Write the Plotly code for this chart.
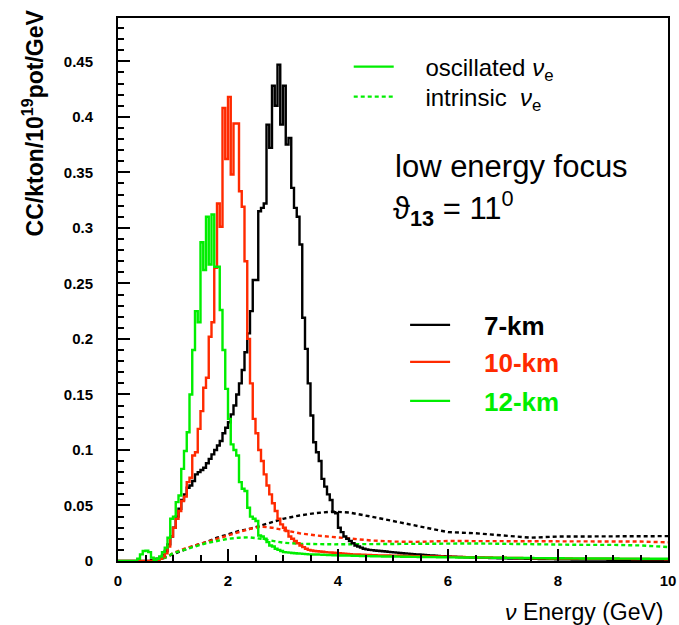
import numpy as np
import plotly.graph_objects as go

# ---------------- data ----------------
BIN_WIDTH = 0.05  # GeV, histogram bins from 0 to 10 GeV

x_tick_values = [0, 2, 4, 6, 8, 10]
y_tick_values = [0, 0.05, 0.1, 0.15, 0.2, 0.25, 0.3, 0.35, 0.4, 0.45]

series_names = ["7-km", "10-km", "12-km"]

# oscillated nu_e, 7 km off-axis (black)
osc_7km = [
    0, 0, 0, 0, 0, 0, 0, 0, 0, 0,
    0, 0, 0.001, 0.001, 0.002, 0.003, 0.005, 0.009, 0.015, 0.022,
    0.030, 0.040, 0.047, 0.055, 0.060, 0.066, 0.068, 0.072, 0.078, 0.080,
    0.082, 0.084, 0.088, 0.092, 0.096, 0.100, 0.104, 0.108, 0.115, 0.120,
    0.125, 0.132, 0.140, 0.150, 0.160, 0.172, 0.188, 0.205, 0.225, 0.253,
    0.253, 0.315, 0.318, 0.322, 0.393, 0.372, 0.428, 0.410, 0.447, 0.393,
    0.428, 0.375, 0.381, 0.336, 0.318, 0.310, 0.285, 0.219, 0.191, 0.160,
    0.131, 0.107, 0.098, 0.090, 0.074, 0.067, 0.060, 0.055, 0.044, 0.043,
    0.030, 0.026, 0.022, 0.020, 0.018, 0.016, 0.014, 0.013, 0.012, 0.011,
    0.0105, 0.010, 0.0098, 0.0095, 0.0092, 0.0090, 0.0088, 0.0085, 0.0082, 0.0080,
    0.0078, 0.0075, 0.0072, 0.0070, 0.0068, 0.0066, 0.0064, 0.0062, 0.0060, 0.0058,
    0.0056, 0.0054, 0.0052, 0.0050, 0.0049, 0.0047, 0.0046, 0.0044, 0.0043, 0.0042,
    0.0040, 0.0039, 0.0038, 0.0037, 0.0036, 0.0035, 0.0034, 0.0033, 0.0032, 0.0031,
    0.0030, 0.0030, 0.0029, 0.0028, 0.0028, 0.0027, 0.0026, 0.0026, 0.0025, 0.0025,
    0.0024, 0.0024, 0.0023, 0.0023, 0.0022, 0.0022, 0.0021, 0.0021, 0.0020, 0.0020,
    0.0020, 0.0019, 0.0019, 0.0018, 0.0018, 0.0018, 0.0017, 0.0017, 0.0017, 0.0016,
    0.0016, 0.0016, 0.0015, 0.0015, 0.0015, 0.0014, 0.0014, 0.0014, 0.0014, 0.0013,
    0.0013, 0.0013, 0.0013, 0.0012, 0.0012, 0.0012, 0.0012, 0.0012, 0.0011, 0.0011,
    0.0011, 0.0011, 0.0011, 0.0010, 0.0010, 0.0010, 0.0010, 0.0010, 0.0010, 0.0010,
    0.0010, 0.0010, 0.0010, 0.0010, 0.0010, 0.0010, 0.0010, 0.0010, 0.0010, 0.0010,
]

# oscillated nu_e, 10 km off-axis (red)
osc_10km = [
    0, 0, 0, 0, 0, 0, 0, 0, 0, 0,
    0, 0, 0, 0.001, 0.001, 0.002, 0.004, 0.007, 0.013, 0.022,
    0.030, 0.038, 0.045, 0.054, 0.058, 0.071, 0.075, 0.095, 0.098, 0.119,
    0.135, 0.156, 0.165, 0.202, 0.215, 0.264, 0.322, 0.301, 0.408, 0.362,
    0.418, 0.348, 0.394, 0.394, 0.333, 0.319, 0.270, 0.200, 0.160, 0.128,
    0.115, 0.100, 0.090, 0.078, 0.068, 0.060, 0.052, 0.045, 0.038, 0.033,
    0.030, 0.027, 0.022, 0.020, 0.018, 0.016, 0.014, 0.0125, 0.011, 0.010,
    0.0095, 0.0090, 0.0088, 0.0085, 0.0083, 0.0080, 0.0078, 0.0076, 0.0074, 0.0072,
    0.0070, 0.0068, 0.0066, 0.0064, 0.0062, 0.0060, 0.0059, 0.0058, 0.0057, 0.0056,
    0.0055, 0.0054, 0.0053, 0.0052, 0.0051, 0.0050, 0.0050, 0.0049, 0.0049, 0.0048,
    0.0048, 0.0047, 0.0047, 0.0046, 0.0046, 0.0045, 0.0045, 0.0044, 0.0044, 0.0043,
    0.0043, 0.0042, 0.0042, 0.0041, 0.0041, 0.0040, 0.0040, 0.0040, 0.0039, 0.0039,
    0.0038, 0.0038, 0.0037, 0.0037, 0.0036, 0.0036, 0.0035, 0.0035, 0.0034, 0.0034,
    0.0033, 0.0033, 0.0032, 0.0032, 0.0031, 0.0031, 0.0030, 0.0030, 0.0030, 0.0029,
    0.0029, 0.0028, 0.0028, 0.0028, 0.0027, 0.0027, 0.0027, 0.0026, 0.0026, 0.0026,
    0.0025, 0.0025, 0.0025, 0.0024, 0.0024, 0.0024, 0.0024, 0.0023, 0.0023, 0.0023,
    0.0023, 0.0022, 0.0022, 0.0022, 0.0022, 0.0021, 0.0021, 0.0021, 0.0021, 0.0020,
    0.0020, 0.0020, 0.0020, 0.0020, 0.0020, 0.0020, 0.0020, 0.0020, 0.0020, 0.0020,
    0.0020, 0.0020, 0.0019, 0.0019, 0.0019, 0.0019, 0.0019, 0.0018, 0.0018, 0.0018,
    0.0018, 0.0018, 0.0018, 0.0017, 0.0017, 0.0017, 0.0017, 0.0017, 0.0017, 0.0016,
]

# oscillated nu_e, 12 km off-axis (green)
osc_12km = [
    0, 0, 0, 0, 0, 0, 0, 0.002, 0.006, 0.009,
    0.0093, 0.008, 0.003, 0.001, 0.002, 0.004, 0.008, 0.012, 0.021, 0.038,
    0.040, 0.053, 0.059, 0.083, 0.099, 0.116, 0.150, 0.190, 0.225, 0.215,
    0.287, 0.262, 0.310, 0.267, 0.312, 0.265, 0.265, 0.226, 0.190, 0.155,
    0.128, 0.105, 0.100, 0.095, 0.071, 0.065, 0.063, 0.048, 0.040, 0.038,
    0.036, 0.023, 0.022, 0.020, 0.017, 0.014, 0.013, 0.011, 0.010, 0.009,
    0.0080, 0.0078, 0.0075, 0.0072, 0.0070, 0.0068, 0.0066, 0.0064, 0.0062, 0.0060,
    0.0060, 0.0059, 0.0058, 0.0057, 0.0056, 0.0055, 0.0054, 0.0053, 0.0052, 0.0051,
    0.0050, 0.0050, 0.0049, 0.0048, 0.0048, 0.0047, 0.0046, 0.0046, 0.0045, 0.0045,
    0.0044, 0.0044, 0.0043, 0.0043, 0.0042, 0.0042, 0.0041, 0.0041, 0.0040, 0.0040,
    0.0040, 0.0039, 0.0039, 0.0038, 0.0038, 0.0038, 0.0037, 0.0037, 0.0037, 0.0036,
    0.0036, 0.0036, 0.0035, 0.0035, 0.0035, 0.0035, 0.0034, 0.0034, 0.0034, 0.0034,
    0.0033, 0.0033, 0.0033, 0.0032, 0.0032, 0.0032, 0.0032, 0.0031, 0.0031, 0.0031,
    0.0031, 0.0030, 0.0030, 0.0030, 0.0030, 0.0030, 0.0029, 0.0029, 0.0029, 0.0029,
    0.0029, 0.0028, 0.0028, 0.0028, 0.0028, 0.0028, 0.0027, 0.0027, 0.0027, 0.0027,
    0.0027, 0.0026, 0.0026, 0.0026, 0.0026, 0.0026, 0.0025, 0.0025, 0.0025, 0.0025,
    0.0025, 0.0025, 0.0024, 0.0024, 0.0024, 0.0024, 0.0024, 0.0024, 0.0023, 0.0023,
    0.0023, 0.0023, 0.0023, 0.0023, 0.0022, 0.0022, 0.0022, 0.0022, 0.0022, 0.0022,
    0.0022, 0.0022, 0.0021, 0.0021, 0.0021, 0.0021, 0.0021, 0.0021, 0.0021, 0.0020,
    0.0020, 0.0020, 0.0020, 0.0020, 0.0020, 0.0020, 0.0020, 0.0020, 0.0020, 0.0020,
]

# intrinsic (beam) nu_e, dashed curves
intrinsic_energy = [0.7, 0.8, 0.9, 1.0, 1.2, 1.4, 1.6, 1.8, 2.0, 2.2, 2.4, 2.6, 2.8, 3.0,
                    3.3, 3.6, 3.9, 4.2, 4.6, 5.0, 5.4, 6.0, 6.5, 7.0, 7.5, 8.0, 8.5,
                    9.0, 9.5, 10.0]
intrinsic_7km = [0.0, 0.002, 0.004, 0.006, 0.010, 0.014, 0.017, 0.021, 0.024, 0.027,
                 0.029, 0.032, 0.035, 0.038, 0.041, 0.0432, 0.0445, 0.0437, 0.040, 0.036,
                 0.032, 0.026, 0.025, 0.023, 0.021, 0.022, 0.022, 0.022, 0.022, 0.0224]
intrinsic_10km = [0.0, 0.002, 0.004, 0.007, 0.011, 0.014, 0.017, 0.020, 0.023, 0.026,
                  0.029, 0.031, 0.030, 0.028, 0.025, 0.023, 0.0215, 0.020, 0.0185, 0.0175,
                  0.0172, 0.018, 0.018, 0.018, 0.018, 0.018, 0.018, 0.0178, 0.0175, 0.0168]
intrinsic_12km = [0.0, 0.002, 0.004, 0.007, 0.010, 0.013, 0.016, 0.018, 0.020, 0.021,
                  0.0213, 0.020, 0.018, 0.0165, 0.0155, 0.015, 0.015, 0.0151, 0.0152, 0.0154,
                  0.0156, 0.016, 0.0158, 0.0155, 0.015, 0.0148, 0.0145, 0.0145, 0.014, 0.0126]

# ---------------- styling ----------------
FONT = "Liberation Sans"
BLACK = "#000000"
RED = "#ff2a00"
GREEN = "#00ee00"
LW = 2.4
DASH = "4px,3px"
NB = "\u00a0"

edges = np.round(np.arange(len(osc_7km) + 1) * BIN_WIDTH, 4)


def step_y(vals):
    return list(vals) + [vals[-1]]


fig = go.Figure()

# legend-only entry for "oscillated nu_e"
fig.add_trace(go.Scatter(
    x=[None], y=[None], mode="lines", line=dict(color=GREEN, width=LW),
    name=NB * 4 + "oscillated <i>ν</i><sub>e</sub>", legend="legend",
))

# dashed intrinsic curves
fig.add_trace(go.Scatter(
    x=intrinsic_energy, y=intrinsic_7km, mode="lines",
    line=dict(color=BLACK, width=LW, dash=DASH), showlegend=False,
))
fig.add_trace(go.Scatter(
    x=intrinsic_energy, y=intrinsic_10km, mode="lines",
    line=dict(color=RED, width=LW, dash=DASH), showlegend=False,
))
fig.add_trace(go.Scatter(
    x=intrinsic_energy, y=intrinsic_12km, mode="lines",
    line=dict(color=GREEN, width=LW, dash=DASH),
    name=NB * 4 + "intrinsic " + NB + "<i>ν</i><sub>e</sub>", legend="legend2",
))

# oscillated histograms
for vals, color, label, leg in [
    (osc_7km, BLACK, series_names[0], "legend3"),
    (osc_10km, RED, series_names[1], "legend4"),
    (osc_12km, GREEN, series_names[2], "legend5"),
]:
    fig.add_trace(go.Scatter(
        x=edges, y=step_y(vals), mode="lines", line_shape="hv",
        line=dict(color=color, width=LW),
        name=NB * 4 + f'<span style="color:{color}">{label}</span>',
        legend=leg,
    ))

axis_common = dict(
    showgrid=False, zeroline=False, showline=True, linecolor="black", linewidth=2,
    mirror=True, ticks="inside", tickcolor="black", tickwidth=2, ticklen=12,
    automargin=False,
    tickfont=dict(family=FONT, size=15, color="black", weight="bold"),
)

leg_top = dict(xanchor="left", yanchor="middle", bgcolor="rgba(0,0,0,0)", itemwidth=40,
               font=dict(family=FONT, size=24, color="black"))
leg_km = dict(xanchor="left", yanchor="middle", bgcolor="rgba(0,0,0,0)", itemwidth=40,
              font=dict(family=FONT, size=26, color="black", weight="bold"))

fig.update_layout(
    width=679, height=625,
    margin=dict(l=118, r=11, t=18, b=64),
    paper_bgcolor="white", plot_bgcolor="white",
    font=dict(family=FONT, color="black"),
    xaxis=dict(
        range=[0, 10], tickvals=x_tick_values, ticktext=[str(v) for v in x_tick_values],
        minor=dict(dtick=0.5, ticks="inside", ticklen=6, tickwidth=1.5, tickcolor="black"),
        ticklabelstandoff=5, **axis_common,
    ),
    yaxis=dict(
        range=[0, 0.489], tickvals=y_tick_values,
        ticktext=[("%g" % v) for v in y_tick_values],
        minor=dict(dtick=0.01, ticks="inside", ticklen=6, tickwidth=1.5, tickcolor="black"),
        ticklabelstandoff=20, **axis_common,
    ),
    legend=dict(x=0.4195, y=0.9098, **leg_top),
    legend2=dict(x=0.4195, y=0.8545, **leg_top),
    legend3=dict(x=0.522, y=0.4346, **leg_km),
    legend4=dict(x=0.522, y=0.3665, **leg_km),
    legend5=dict(x=0.522, y=0.2947, **leg_km),
    showlegend=True,
)

fig.add_annotation(
    text="CC/kton/10<sup>19</sup>pot/GeV", textangle=-90,
    xref="paper", yref="paper", x=-0.155, y=1.02, xanchor="center", yanchor="top",
    showarrow=False, font=dict(family=FONT, size=23, color="black", weight="bold"),
)
fig.add_annotation(
    text="<i>ν</i> Energy (GeV)",
    xref="paper", yref="paper", x=0.996, y=-0.094, xanchor="right", yanchor="middle",
    showarrow=False, font=dict(family=FONT, size=23, color="black"),
)
fig.add_annotation(
    text="low energy focus",
    xref="paper", yref="paper", x=0.5, y=0.726, xanchor="left", yanchor="middle",
    showarrow=False, font=dict(family=FONT, size=31, color="black"),
)
fig.add_annotation(
    text="ϑ<sub><b>13</b></sub> = 11<sup>0</sup>",
    xref="paper", yref="paper", x=0.497, y=0.65, xanchor="left", yanchor="middle",
    showarrow=False, font=dict(family=FONT, size=31, color="black"),
)

fig.write_html("out.html", config={"displayModeBar": False})
